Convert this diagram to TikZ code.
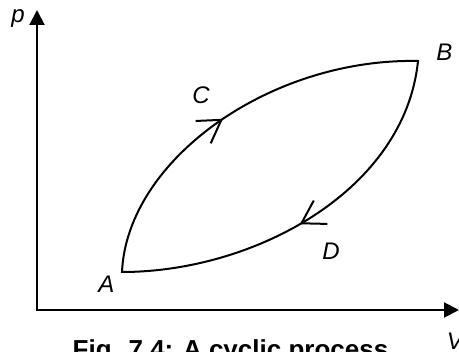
\documentclass[tikz,border=0pt]{standalone}
\usepackage{fontspec}
\setmainfont{Liberation Sans}
\usetikzlibrary{arrows.meta,decorations.markings}

\begin{document}
\begin{tikzpicture}[x=1pt, y=-1pt,
  axis/.style={line width=2pt, {Triangle[length=15pt, width=15pt]}-{Triangle[length=15pt, width=15pt]}},
  cycle/.style={line width=2pt, line join=miter, postaction={decorate},
    decoration={markings,
      mark=at position 0.24 with {\arrow{Straight Barb[length=22pt, width=27pt, line width=2pt]}},
      mark=at position 0.765 with {\arrow{Straight Barb[length=22pt, width=27pt, line width=2pt]}}}},
  lbl/.style={inner sep=0pt, anchor=base, font=\fontsize{24}{24}\selectfont\itshape},
  caption/.style={inner sep=0pt, anchor=base, font=\fontsize{26}{26}\selectfont\bfseries},
]
\clip (0,0) rectangle (459,352);

% axes
\coordinate (O) at (37,310);
\coordinate (ptip) at (37,10);
\coordinate (Vtip) at (459,310);
\draw[axis] (ptip) -- (O) -- (Vtip);

% states
\coordinate (A) at (122,272);
\coordinate (B) at (418,61);

% cycle A -> C -> B -> D -> A
\draw[cycle] (A) .. controls (127,160) and (270,58) .. (B)
  .. controls (405,190) and (255,272) .. (A) -- cycle;

% labels
\node[lbl] (plbl) at (18,22.5) {p};
\node[lbl] (Vlbl) at (455,349.5) {V};
\node[lbl] (Albl) at (106.5,292.3) {A};
\node[lbl] (Blbl) at (444.5,60.7) {B};
\node[lbl] (Clbl) at (201,103.5) {C};
\node[lbl] (Dlbl) at (331,260) {D};

\node[caption] (cap) at (230.5,358.5) {Fig. 7.4: A cyclic process};
\end{tikzpicture}
\end{document}
